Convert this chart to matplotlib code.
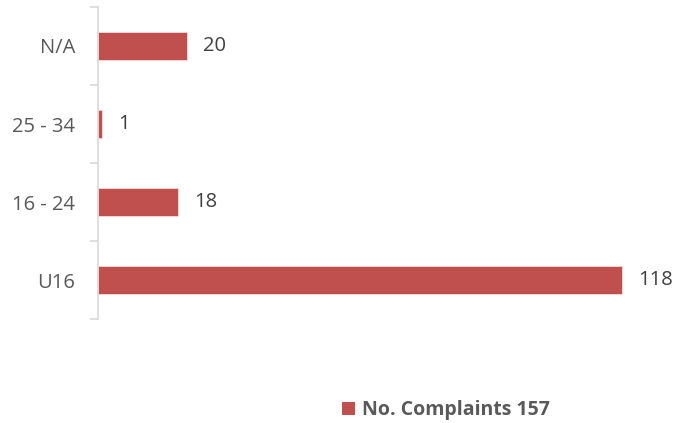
import matplotlib
matplotlib.use("Agg")
import matplotlib.pyplot as plt
from matplotlib.patches import Patch

categories = ["U16", "16 - 24", "25 - 34", "N/A"]
values = [118, 18, 1, 20]
series_name = "No. Complaints 157"

plt.rcParams['font.family'] = ['Open Sans', 'DejaVu Sans']

W, H = 677, 423
fig = plt.figure(figsize=(W/100, H/100), dpi=100)
ax = fig.add_axes([98/W, (H-319)/H, (660-98)/W, 312/H])

color = "#C0504D"
y = list(range(len(categories)))
ax.barh(y, values, height=0.35, color=color, edgecolor="#f2dcdb", linewidth=0.6)

ax.set_xlim(0, (660-98)/((622-98)/118))
ax.set_ylim(-0.5, len(categories) - 0.5)

for s in ["top", "right", "bottom"]:
    ax.spines[s].set_visible(False)
ax.spines["left"].set_color("#d9d9d9")
ax.spines["left"].set_linewidth(1.2)
ax.set_xticks([])

fs = 14.5
ax.set_yticks(y)
ax.set_yticklabels(categories, fontsize=fs, color="#595959")
ax.tick_params(axis="y", length=0, pad=16.5)
ax.set_yticks([i - 0.5 for i in range(len(categories) + 1)], minor=True)
ax.tick_params(axis="y", which="minor", length=6, color="#d9d9d9", width=1.2, direction="out")

for yi, v in zip(y, values):
    ax.annotate(str(v), (v, yi), xytext=(16, 0), textcoords="offset pixels",
                va="center", ha="left", fontsize=fs, color="#404040")

fig.legend(handles=[Patch(facecolor=color, edgecolor="none")], labels=[series_name],
           loc="center", bbox_to_anchor=(446/W, (H-410)/H), frameon=False,
           handlelength=0.65, handleheight=0.65, handletextpad=0.35,
           prop={"size": 14, "weight": "bold"}, labelcolor="#595959")

fig.savefig("out.png", dpi=100)
